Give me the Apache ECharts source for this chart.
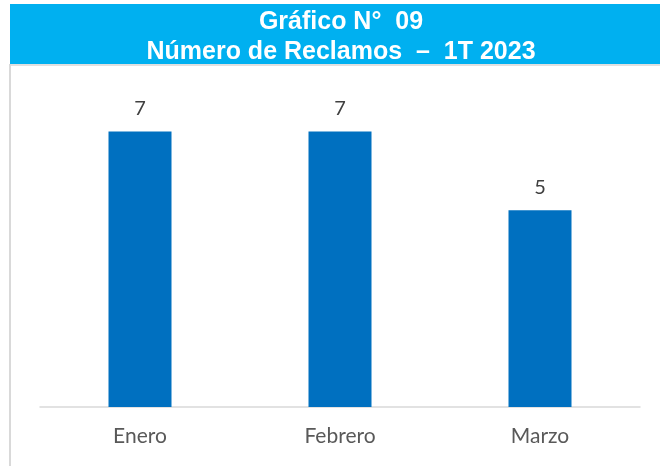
<!DOCTYPE html>
<html>
<head>
<meta charset="utf-8">
<script src="https://cdn.jsdelivr.net/npm/echarts@6/dist/echarts.min.js"></script>
<style>
  html, body { margin: 0; padding: 0; background: #fff; }
  #chart { width: 660px; height: 466px; }
</style>
</head>
<body>
<div id="chart"></div>
<script>
// datos del gráfico
var meses = ['Enero', 'Febrero', 'Marzo'];
var reclamos = [7, 7, 5];

(function () {
  var myChart = echarts.init(document.getElementById('chart'));
  var option = {
    animation: false,
    graphic: [
      // franja azul del título
      { type: 'rect', left: 10, top: 4, shape: { width: 660, height: 60 }, style: { fill: '#00b0f0' }, silent: true },
      // línea gris bajo el título
      { type: 'rect', left: 10, top: 64, shape: { width: 660, height: 2 }, style: { fill: '#e0e0e0' }, silent: true },
      // borde izquierdo
      { type: 'rect', left: 9, top: 64, shape: { width: 2, height: 410 }, style: { fill: '#d9d9d9' }, silent: true }
    ],
    title: {
      text: 'Gráfico N°  09\nNúmero de Reclamos  –  1T 2023',
      left: 336,
      top: 2,
      textAlign: 'center',
      textStyle: {
        color: '#fff',
        fontFamily: 'Liberation Sans',
        fontWeight: 'bold',
        fontSize: 25,
        lineHeight: 30
      }
    },
    grid: { left: 40, right: 20, top: 92, bottom: 59 },
    xAxis: {
      type: 'category',
      data: meses,
      axisTick: { show: false },
      axisLine: { lineStyle: { color: '#d9d9d9', width: 1.5 } },
      axisLabel: { color: '#595959', fontSize: 21, fontFamily: 'Lato', margin: 19 }
    },
    yAxis: {
      type: 'value',
      min: 0,
      max: 8,
      show: false,
      splitLine: { show: false }
    },
    series: [{
      type: 'bar',
      data: reclamos,
      barWidth: 63,
      itemStyle: { color: '#0070c0' },
      label: {
        show: true,
        position: 'top',
        distance: 13,
        color: '#404040',
        fontSize: 20,
        fontFamily: 'Lato'
      }
    }]
  };
  myChart.setOption(option);
})();
</script>
</body>
</html>
